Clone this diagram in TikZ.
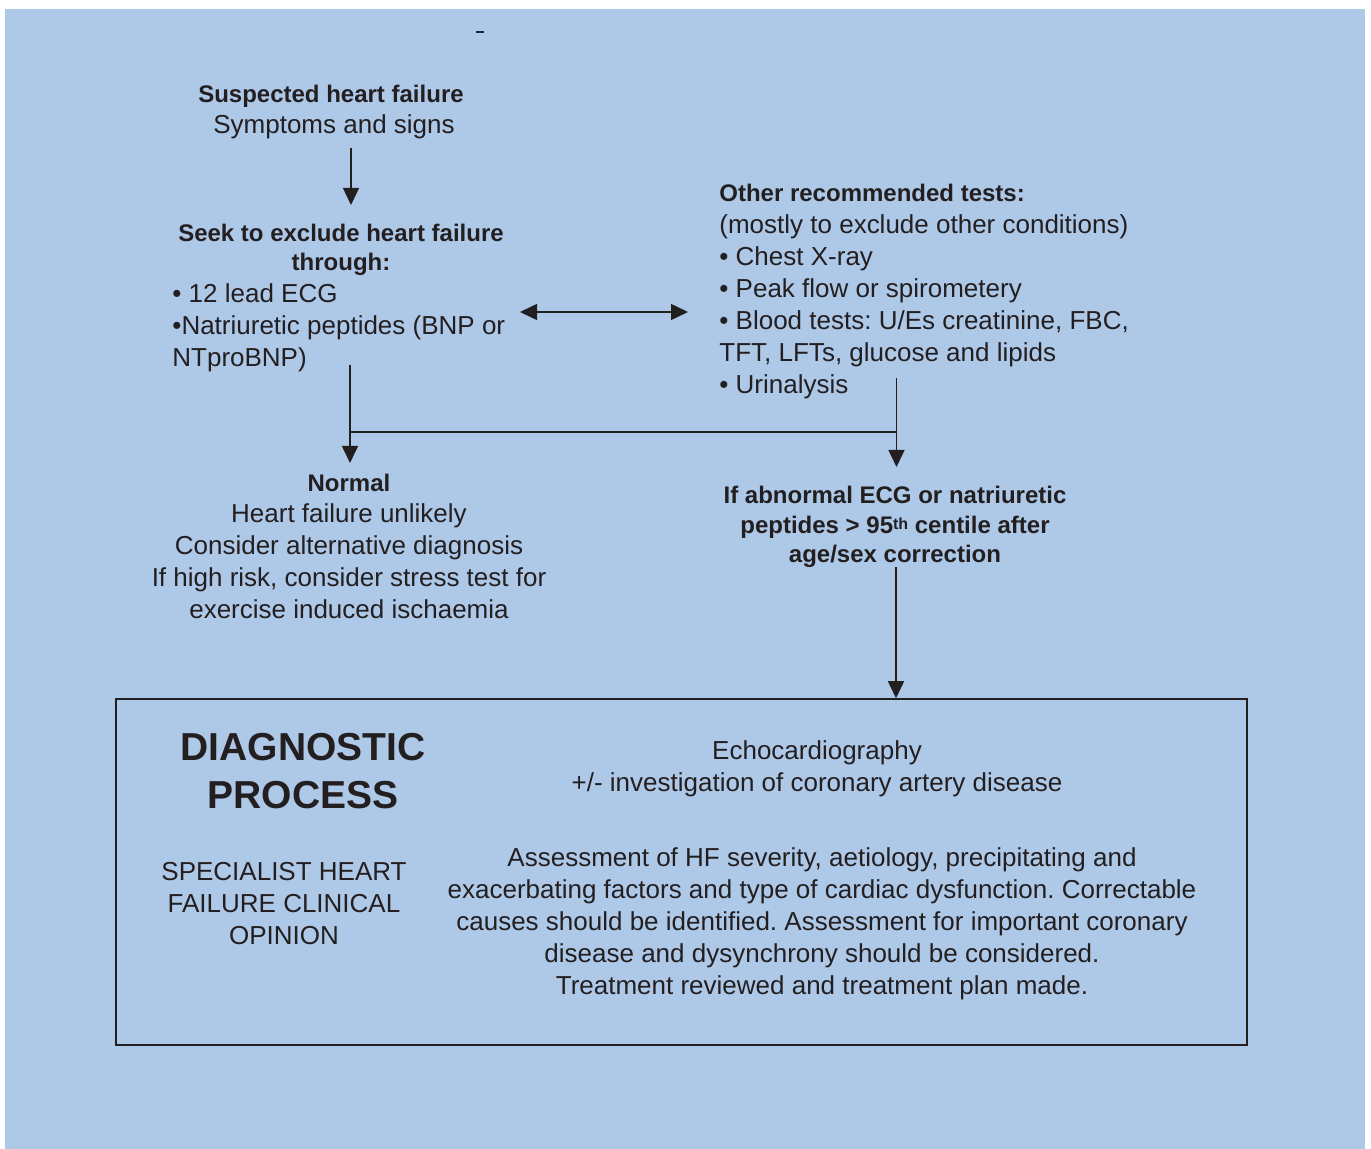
\documentclass[tikz,border=0pt]{standalone}
\usepackage{fontspec}
\setmainfont{Liberation Sans}
\usetikzlibrary{arrows.meta}
\definecolor{bgblue}{RGB}{174,200,232}
\definecolor{ink}{RGB}{35,31,32}
\frenchspacing
\tikzset{
  txt/.style={inner sep=0pt, text=ink, font=\fontsize{13}{16}\selectfont},
  hd/.style={inner sep=0pt, text=ink, font=\bfseries\fontsize{12}{14.8}\selectfont},
  arr/.style={draw=ink, line width=0.75pt, -{Triangle[length=8.5pt,width=8pt]}},
}
\begin{document}
\begin{tikzpicture}[x=0.5pt, y=-0.5pt]
      \useasboundingbox (0,0) rectangle (1371,1149);
      \fill[bgblue] (5,9) rectangle (1365,1149);   % background
      \draw[ink, line width=1pt] (476,32) -- (484,32);
      %
      \node[hd]  (susphd) at (331,96)  {Suspected heart failure};   % top
      \node[txt] (symp)   at (334,127) {Symptoms and signs};
      %
      \node[hd, align=center] (seekhd) at (341,250) {Seek to exclude heart failure\\through:};
      \node[txt, align=left, anchor=west] (seeklist) at (172,328)
        {• 12 lead ECG\\•Natriuretic peptides (BNP or\\NTproBNP)};
      %
      \node[hd, anchor=west] (otherhd) at (719,193) {Other recommended tests:};
      \node[txt, align=left, anchor=west] (otherlist) at (719,307)
        {(mostly to exclude other conditions)\\• Chest X-ray\\• Peak flow or spirometery\\%
         • Blood tests: U/Es creatinine, FBC,\\TFT, LFTs, glucose and lipids\\• Urinalysis};
      %
      \node[hd]  (normhd) at (349,483) {Normal};                    % left result
      \node[txt, align=center] (normtxt) at (349,561)
        {Heart failure unlikely\\Consider alternative diagnosis\\%
         If high risk, consider stress test for\\exercise induced ischaemia};
      %
      \node[hd, align=center] (abnhd) at (895,527)                  % right result
        {If abnormal ECG or natriuretic\\peptides > 95{\fontsize{8}{8}\selectfont\raisebox{0.4ex}{th}} centile after\\age/sex correction};
      %
      \node[draw=ink, line width=0.75pt, minimum width=565.5pt, minimum height=173pt,
            inner sep=0pt] (box) at (681.5,872) {};                 % bottom box
      \node[inner sep=0pt, text=ink, align=center, font=\bfseries\fontsize{19.5}{24}\selectfont]
        (diag) at (303,771) {DIAGNOSTIC\\PROCESS};
      \node[txt, align=center] (spec) at (284,904)
        {SPECIALIST HEART\\FAILURE CLINICAL\\OPINION};
      \node[txt, align=center] (echo) at (817,769)
        {Echocardiography\\+/- investigation of coronary artery disease};
      \node[txt, align=center] (assess) at (822,924)
        {Assessment of HF severity, aetiology, precipitating and\\%
         exacerbating factors and type of cardiac dysfunction. Correctable\\%
         causes should be identified. Assessment for important coronary\\%
         disease and dysynchrony should be considered.\\%
         Treatment reviewed and treatment plan made.};
      %
      \coordinate (a1s) at (351,148);  \coordinate (a1e) at (351,205);   % arrows
      \coordinate (dbl) at (520,312);  \coordinate (dbr) at (688,312);
      \coordinate (ls)  at (350,365);  \coordinate (le)  at (350,463);
      \coordinate (rs)  at (896.5,378);\coordinate (re)  at (896.5,467);
      \coordinate (jl)  at (350,432);  \coordinate (jr)  at (896.5,432);
      \coordinate (bs)  at (896,567);
      %
      \draw[arr] (a1s) -- (a1e);
      \draw[arr, {Triangle[length=8.5pt,width=8pt]}-{Triangle[length=8.5pt,width=8pt]}] (dbl) -- (dbr);
      \draw[arr] (ls) -- (le);
      \draw[arr] (rs) -- (re);
      \draw[ink, line width=0.75pt] (jl) -- (jr);
      \draw[arr] (bs) -- (bs |- box.north);
      %
    \end{tikzpicture}
\end{document}
